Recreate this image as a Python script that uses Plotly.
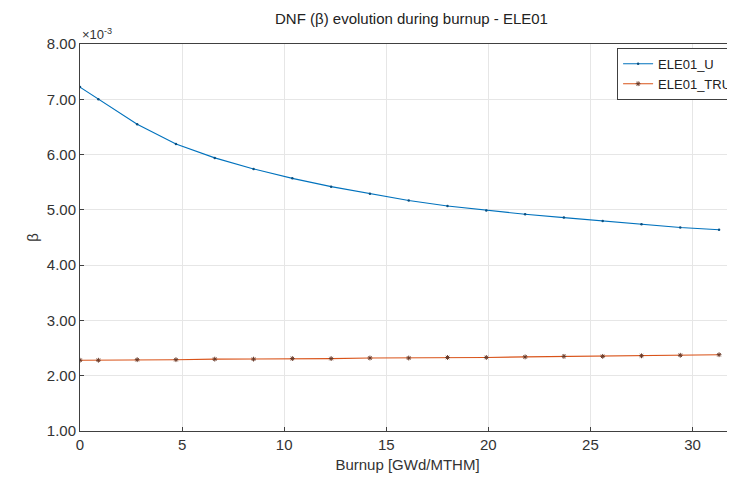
import plotly.graph_objects as go

burnup = [0, 0.9, 2.8, 4.7, 6.6, 8.5, 10.4, 12.3, 14.2, 16.1, 18.0, 19.9, 21.8, 23.7, 25.6, 27.5, 29.4, 31.3]
beta_u = [7.22, 7.00, 6.55, 6.19, 5.94, 5.74, 5.57, 5.42, 5.29, 5.17, 5.07, 4.99, 4.92, 4.86, 4.80, 4.74, 4.68, 4.64]
beta_tru = [2.28, 2.28, 2.29, 2.29, 2.30, 2.30, 2.31, 2.31, 2.32, 2.32, 2.33, 2.33, 2.34, 2.35, 2.35, 2.36, 2.37, 2.38]
yticks = [1, 2, 3, 4, 5, 6, 7, 8]
xticks = [0, 5, 10, 15, 20, 25, 30]

FONT = "Liberation Sans, Arial, sans-serif"

fig = go.Figure()
fig.add_trace(go.Scatter(x=burnup, y=beta_u, mode="lines+markers", name="ELE01_U",
                         line=dict(color="#0072BD", width=1.1),
                         marker=dict(size=2.5, color="#0a4f80")))
fig.add_trace(go.Scatter(x=burnup, y=beta_tru, mode="lines+markers", name="ELE01_TRU",
                         line=dict(color="#D95319", width=1.1),
                         marker=dict(size=4, symbol="asterisk", color="#6a3a28",
                                     line=dict(color="#6a3a28", width=1))))

axis_common = dict(showgrid=True, gridcolor="#e6e6e6", gridwidth=1, zeroline=False,
                   showline=True, linecolor="#404040", linewidth=1, mirror=True,
                   ticks="inside", ticklen=4, tickcolor="#404040", automargin=False,
                   tickfont=dict(family=FONT, size=15, color="#333333"))

fig.update_xaxes(range=[0, 32.08], tickvals=xticks, **axis_common,
                 title=dict(text="Burnup [GWd/MTHM]", font=dict(family=FONT, size=15, color="#333333"),
                            standoff=7))
fig.update_yaxes(range=[1, 8], tickvals=yticks, tickformat=".2f", **axis_common,
                 title=dict(text="β", font=dict(family=FONT, size=15, color="#333333"), standoff=4))

fig.update_layout(
    width=727, height=476,
    margin=dict(l=72, r=0, t=36, b=53, autoexpand=False),
    paper_bgcolor="white", plot_bgcolor="white",
    title=dict(text="DNF (β) evolution during burnup - ELE01", x=0.555, xanchor="center",
               y=0.977, yanchor="middle", font=dict(family=FONT, size=15, color="#222222")),
    legend=dict(x=0.82, y=0.99, xanchor="left", yanchor="top", bgcolor="white",
                bordercolor="#404040", borderwidth=1,
                font=dict(family=FONT, size=13, color="#222222"),
                itemwidth=30, tracegroupgap=0),
    showlegend=True,
    annotations=[dict(text="×10<sup>-3</sup>", xref="paper", yref="paper", x=0.0, y=1.0,
                      xanchor="left", yanchor="bottom", showarrow=False,
                      font=dict(family=FONT, size=13, color="#333333"))],
)

fig.write_html("out.html")
